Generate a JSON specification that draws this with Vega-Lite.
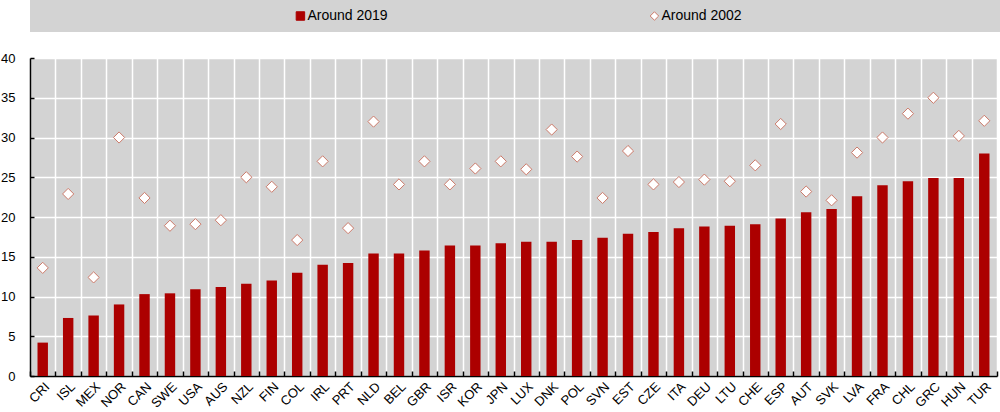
{
  "$schema": "https://vega.github.io/schema/vega-lite/v6.json",
  "padding": 0,
  "background": "white",
  "config": {"font": "Liberation Sans", "view": {"stroke": null}},
  "bounds": "flush",
  "spacing": 26,
  "vconcat": [
    {
      "width": 970,
      "height": 32,
      "view": {"fill": "#d3d3d3", "stroke": null},
      "data": {"values": [{"series": "Around 2019"}, {"series": "Around 2002"}]},
      "encoding": {
        "x": {"field": "series", "type": "nominal", "sort": null, "scale": {"type": "point", "padding": 0.87, "align": 0.439}, "axis": null}
      },
      "layer": [
        {
          "mark": {"type": "point", "filled": true, "strokeWidth": 1, "opacity": 1, "size": 72},
          "encoding": {
            "shape": {"field": "series", "type": "nominal", "scale": {"domain": ["Around 2019", "Around 2002"], "range": ["square", "diamond"]}, "legend": null},
            "fill": {"field": "series", "type": "nominal", "scale": {"domain": ["Around 2019", "Around 2002"], "range": ["#ac0000", "#ffffff"]}, "legend": null},
            "stroke": {"field": "series", "type": "nominal", "scale": {"domain": ["Around 2019", "Around 2002"], "range": ["#ac0000", "#cc7a6a"]}, "legend": null}
          }
        },
        {
          "mark": {"type": "text", "align": "left", "baseline": "middle", "dx": 7, "fontSize": 14, "color": "black"},
          "encoding": {"text": {"field": "series", "type": "nominal"}}
        }
      ]
    },
    {
      "width": 967,
      "height": 318,
      "view": {"fill": "#d3d3d3", "stroke": null},
      "data": {
        "values": [
          {"country": "CRI", "y2019": 4.2, "y2002": 13.6},
          {"country": "ISL", "y2019": 7.3, "y2002": 22.9},
          {"country": "MEX", "y2019": 7.6, "y2002": 12.4},
          {"country": "NOR", "y2019": 9.0, "y2002": 30.0},
          {"country": "CAN", "y2019": 10.3, "y2002": 22.4},
          {"country": "SWE", "y2019": 10.4, "y2002": 18.9},
          {"country": "USA", "y2019": 10.9, "y2002": 19.1},
          {"country": "AUS", "y2019": 11.2, "y2002": 19.6},
          {"country": "NZL", "y2019": 11.6, "y2002": 25.0},
          {"country": "FIN", "y2019": 12.0, "y2002": 23.8},
          {"country": "COL", "y2019": 13.0, "y2002": 17.1},
          {"country": "IRL", "y2019": 14.0, "y2002": 27.0},
          {"country": "PRT", "y2019": 14.2, "y2002": 18.6},
          {"country": "NLD", "y2019": 15.4, "y2002": 32.0},
          {"country": "BEL", "y2019": 15.4, "y2002": 24.1},
          {"country": "GBR", "y2019": 15.8, "y2002": 27.0},
          {"country": "ISR", "y2019": 16.4, "y2002": 24.1},
          {"country": "KOR", "y2019": 16.4, "y2002": 26.1},
          {"country": "JPN", "y2019": 16.7, "y2002": 27.0},
          {"country": "LUX", "y2019": 16.9, "y2002": 26.0},
          {"country": "DNK", "y2019": 16.9, "y2002": 31.0},
          {"country": "POL", "y2019": 17.1, "y2002": 27.6},
          {"country": "SVN", "y2019": 17.4, "y2002": 22.4},
          {"country": "EST", "y2019": 17.9, "y2002": 28.3},
          {"country": "CZE", "y2019": 18.1, "y2002": 24.1},
          {"country": "ITA", "y2019": 18.6, "y2002": 24.4},
          {"country": "DEU", "y2019": 18.8, "y2002": 24.7},
          {"country": "LTU", "y2019": 18.9, "y2002": 24.5},
          {"country": "CHE", "y2019": 19.1, "y2002": 26.5},
          {"country": "ESP", "y2019": 19.8, "y2002": 31.7},
          {"country": "AUT", "y2019": 20.6, "y2002": 23.2},
          {"country": "SVK", "y2019": 21.0, "y2002": 22.1},
          {"country": "LVA", "y2019": 22.6, "y2002": 28.1},
          {"country": "FRA", "y2019": 24.0, "y2002": 30.0},
          {"country": "CHL", "y2019": 24.5, "y2002": 33.0},
          {"country": "GRC", "y2019": 24.9, "y2002": 35.0},
          {"country": "HUN", "y2019": 24.9, "y2002": 30.2},
          {"country": "TUR", "y2019": 28.0, "y2002": 32.1}
        ]
      },
      "encoding": {
        "x": {
          "field": "country", "type": "nominal", "sort": null, "title": null,
          "scale": {"paddingInner": 0, "paddingOuter": 0},
          "axis": {
            "tickBand": "extent", "grid": true, "gridColor": "white", "gridWidth": 1.5, "gridOpacity": 1,
            "domainColor": "black", "domainWidth": 1.5, "tickColor": "black", "tickSize": -5, "tickWidth": 1.5,
            "labelAngle": -45, "labelAlign": "right", "labelBaseline": "top", "labelPadding": 9,
            "labelFontSize": 13, "labelColor": "black"
          }
        }
      },
      "layer": [
        {
          "mark": {"type": "bar", "width": {"band": 0.41}, "color": "#ac0000"},
          "encoding": {
            "y": {
              "field": "y2019", "type": "quantitative", "title": null,
              "scale": {"domain": [0, 40], "nice": false},
              "axis": {
                "values": [0, 5, 10, 15, 20, 25, 30, 35, 40], "labelOverlap": false, "grid": true, "gridColor": "white", "gridWidth": 1.5, "gridOpacity": 1,
                "domainColor": "black", "domainWidth": 1.5, "tickColor": "black", "tickSize": -4, "tickWidth": 1.5,
                "labelPadding": 19, "labelFontSize": 13, "labelColor": "black"
              }
            }
          }
        },
        {
          "mark": {"type": "point", "shape": "diamond", "filled": true, "fill": "white", "stroke": "#cc7a6a", "strokeWidth": 1, "size": 125, "opacity": 1},
          "encoding": {
            "y": {
              "field": "y2002", "type": "quantitative", "title": null,
              "axis": {
                "values": [0, 5, 10, 15, 20, 25, 30, 35, 40], "labelOverlap": false, "grid": true, "gridColor": "white", "gridWidth": 1.5, "gridOpacity": 1,
                "domainColor": "black", "domainWidth": 1.5, "tickColor": "black", "tickSize": -4, "tickWidth": 1.5,
                "labelPadding": 19, "labelFontSize": 13, "labelColor": "black"
              }
            }
          }
        }
      ]
    }
  ]
}
